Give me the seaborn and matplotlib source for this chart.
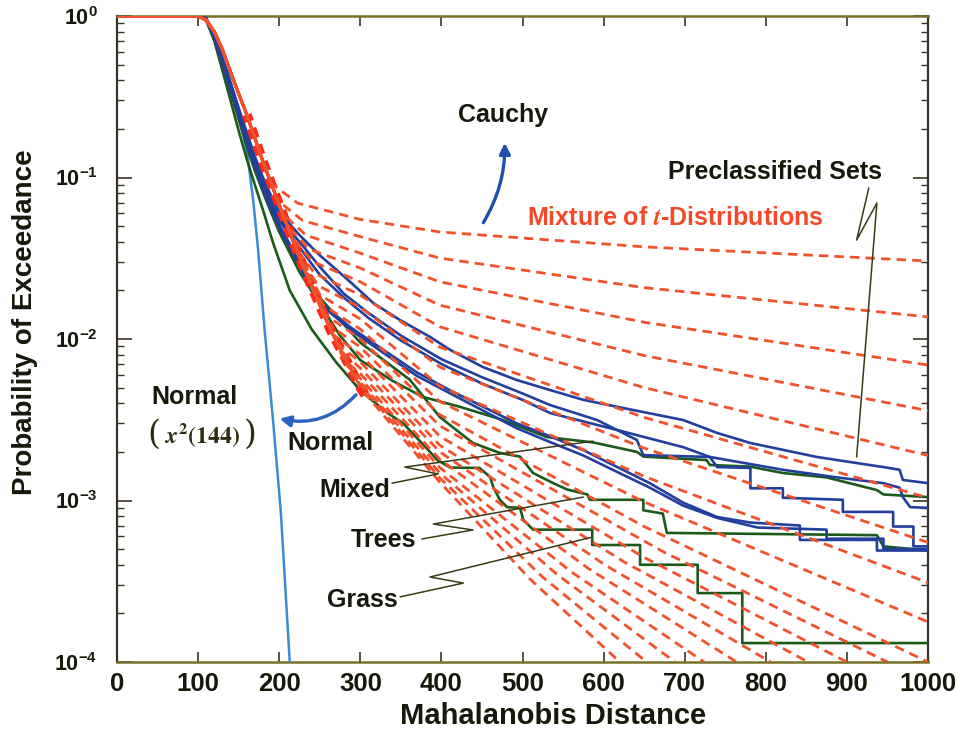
import numpy as np
import matplotlib
matplotlib.use("Agg")
import matplotlib.pyplot as plt
import seaborn as sns
from matplotlib.patches import FancyArrowPatch
from matplotlib.ticker import LogLocator, NullFormatter

# ---------------------------------------------------------------- data
X_TICKS = [0, 100, 200, 300, 400, 500, 600, 700, 800, 900, 1000]
Y_DECADES = [1e-4, 1e-3, 1e-2, 1e-1, 1.0]
Y_TICK_LABELS = [r"$10^{-4}$", r"$10^{-3}$", r"$10^{-2}$", r"$10^{-1}$", r"$10^{0}$"]

# chi-square(144) exceedance (light blue)
CHI2_X = [0, 100, 110, 120, 130, 140, 150, 160, 168, 174, 182, 192, 202, 213]
CHI2_Y = [1, 1, 0.96, 0.76, 0.53, 0.36, 0.24, 0.148, 0.072, 0.0355, 0.0114, 0.0033, 0.00085, 0.0001]

# common head of the t-mixture curves
ENV_X = [0, 100, 110, 120, 130, 140, 150, 160, 170, 180, 190, 198, 204, 210, 215, 220,
         225, 230, 235, 240, 246, 252, 258, 264, 270, 277, 284, 292, 300, 310]
ENV_Y = [1, 1, 0.94, 0.80, 0.62, 0.45, 0.33, 0.245, 0.175, 0.125, 0.092, 0.072, 0.060,
         0.050, 0.043, 0.037, 0.032, 0.028, 0.0243, 0.021, 0.018, 0.0153, 0.0131, 0.0112,
         0.0098, 0.0084, 0.0072, 0.0060, 0.0050, 0.0042]

# individual t-mixture tails
RED_BRANCH_X = [190, 198, 204, 210, 215, 220, 225, 230, 235, 240, 246, 252, 258, 264, 270, 277, 284, 292, 292]
RED_KNEE_X = [223, 229, 233, 237, 241, 244, 248, 251, 255, 258, 262, 266, 271, 275, 279, 284, 289, 295, 296]
RED_KNEE_Y = [0.0693, 0.0541, 0.0439, 0.0360, 0.0302, 0.0254, 0.0214, 0.0186, 0.0161, 0.0140,
              0.0122, 0.0107, 0.0094, 0.0085, 0.0075, 0.0068, 0.0062, 0.0057, 0.0055]
RED_STATION_X = [300, 398]
RED_Y300 = [0.055, 0.043, 0.034, 0.0275, 0.0226, 0.0187, 0.0157, 0.0133, 0.0115, 0.0100,
            0.0089, 0.0080, 0.0072, 0.0066, 0.0061, 0.0057, 0.0054, 0.0052, 0.0050]
RED_Y398 = [0.046, 0.0317, 0.0226, 0.0162, 0.0119, 0.0089, 0.0067, 0.0051, 0.0041, 0.0034,
            0.0029, 0.0025, 0.0022, 0.0020, 0.0018, 0.0016, 0.00148, 0.00138, 0.0013]
RED_MID_X = [650, 650, 650, 650, 650, 650, 650, 650, 650, 650, 674, 649, 625, 602, 581, 561, 543, 525, 509]
RED_MID_Y = [0.0372, 0.0208, 0.0127, 0.0079, 0.0050, 0.00327, 0.00211, 0.00141, 0.00098, 0.00069,
             0.00048, 0.000447, 0.000417, 0.000398, 0.00038, 0.000359, 0.000347, 0.000335, 0.000327]
RED_END_X = [1000, 1000, 1000, 1000, 1000, 1000, 1000, 1000, 1000, 1000, 950, 900, 852, 806, 764, 724, 688, 653, 620]
RED_END_Y = [0.0304, 0.0137, 0.0069, 0.0036, 0.0019, 0.00104, 0.00055, 0.00031, 0.000177, 0.0001,
             0.0001, 0.0001, 0.0001, 0.0001, 0.0001, 0.0001, 0.0001, 0.0001, 0.0001]

# preclassified sets (dark blue)
BLUE_A_X = [0, 100, 110, 120, 130, 140, 150, 160, 170, 180, 190, 200, 225, 250, 270, 290, 316, 349,
            386, 411, 451, 493, 534, 575, 617, 698, 740, 781, 863, 945, 965, 969, 1000]
BLUE_A_Y = [1, 1, 0.97, 0.78, 0.56, 0.39, 0.27, 0.19, 0.135, 0.1, 0.077, 0.061, 0.044, 0.033, 0.027,
            0.022, 0.0167, 0.0131, 0.0103, 0.00855, 0.00671, 0.00557, 0.00483, 0.0042, 0.0038,
            0.00315, 0.00262, 0.00227, 0.00186, 0.00161, 0.00155, 0.00134, 0.00128]
BLUE_B_X = [0, 100, 110, 120, 130, 140, 150, 160, 170, 180, 190, 200, 225, 250, 280, 310, 350, 400,
            450, 500, 534, 592, 641, 649, 731, 740, 781, 781, 821, 821, 895, 895, 957, 957, 982, 982, 1000]
BLUE_B_Y = [1, 1, 0.96, 0.76, 0.54, 0.375, 0.26, 0.18, 0.128, 0.095, 0.072, 0.056, 0.040, 0.028,
            0.019, 0.0145, 0.0105, 0.0075, 0.0058, 0.0046, 0.0039, 0.00315, 0.00237, 0.00191,
            0.00186, 0.00161, 0.00159, 0.00119, 0.00119, 0.00104, 0.00101, 0.00085, 0.00085,
            0.00069, 0.00069, 0.00052, 0.00052]
BLUE_C_X = [0, 100, 110, 120, 130, 140, 150, 160, 170, 180, 190, 200, 225, 250, 280, 310, 350, 400,
            450, 500, 534, 617, 698, 731, 821, 883, 945, 965, 969, 978, 1000]
BLUE_C_Y = [1, 1, 0.955, 0.75, 0.53, 0.365, 0.25, 0.175, 0.124, 0.091, 0.069, 0.054, 0.037, 0.025,
            0.018, 0.0135, 0.0098, 0.0070, 0.0053, 0.0042, 0.00348, 0.00273, 0.00214, 0.00186,
            0.00155, 0.00140, 0.00128, 0.00120, 0.00105, 0.00091, 0.00090]
BLUE_D_X = [0, 100, 110, 120, 130, 140, 150, 160, 170, 180, 190, 200, 225, 247, 287, 328, 370, 411,
            493, 534, 575, 617, 657, 698, 740, 781, 842, 842, 937, 937, 1000]
BLUE_D_Y = [1, 1, 0.95, 0.74, 0.52, 0.36, 0.245, 0.17, 0.12, 0.088, 0.066, 0.051, 0.030, 0.0174,
            0.0119, 0.0086, 0.0062, 0.0048, 0.0030, 0.0025, 0.00205, 0.00161, 0.00128, 0.00097,
            0.00079, 0.00073, 0.00070, 0.00057, 0.00057, 0.00049, 0.00049]
BLUE_E_X = [0, 100, 110, 120, 130, 140, 150, 160, 170, 180, 190, 200, 225, 250, 290, 330, 370, 411,
            493, 534, 575, 617, 657, 698, 740, 790, 875, 875, 945, 945, 1000]
BLUE_E_Y = [1, 1, 0.95, 0.73, 0.51, 0.35, 0.24, 0.166, 0.117, 0.085, 0.064, 0.049, 0.028, 0.0165,
            0.0112, 0.0081, 0.0059, 0.0046, 0.0028, 0.0023, 0.0019, 0.00150, 0.00120, 0.00093,
            0.00078, 0.00068, 0.00066, 0.00058, 0.00058, 0.00050, 0.00050]

# scene classes (green)
GRASS_X = [0, 100, 110, 120, 130, 140, 150, 160, 170, 180, 192, 213, 240, 270, 300, 333, 353, 382,
           395, 411, 447, 460, 464, 472, 481, 497, 501, 513, 586, 586, 645, 645, 716, 716, 771, 771, 1000]
GRASS_Y = [1, 1, 0.94, 0.70, 0.46, 0.30, 0.195, 0.13, 0.09, 0.063, 0.040, 0.020, 0.0115, 0.0072,
           0.0048, 0.0035, 0.0030, 0.0021, 0.00178, 0.00160, 0.00159, 0.00140, 0.00121, 0.00101,
           0.00091, 0.00090, 0.00076, 0.00066, 0.00066, 0.00053, 0.00053, 0.00040, 0.00040,
           0.000267, 0.000267, 0.000131, 0.000131]
MIXED_X = [0, 100, 110, 120, 130, 140, 150, 160, 170, 185, 200, 225, 250, 275, 300, 340, 377, 423,
           476, 530, 587, 641, 649, 727, 731, 781, 821, 875, 937, 945, 1000]
MIXED_Y = [1, 1, 0.95, 0.73, 0.50, 0.34, 0.23, 0.155, 0.11, 0.07, 0.046, 0.026, 0.0165, 0.0105,
           0.0074, 0.0055, 0.00438, 0.0038, 0.00315, 0.00247, 0.00229, 0.0020, 0.00187, 0.00178,
           0.00166, 0.00162, 0.00148, 0.00139, 0.00116, 0.00109, 0.00105]
TREES_X = [0, 100, 110, 120, 130, 140, 150, 160, 170, 185, 200, 225, 250, 300, 361, 398, 423, 439,
           472, 497, 513, 538, 555, 580, 583, 649, 649, 673, 678, 937, 945, 1000]
TREES_Y = [1, 1, 0.95, 0.74, 0.51, 0.35, 0.24, 0.16, 0.115, 0.073, 0.049, 0.028, 0.018, 0.0095,
           0.0056, 0.00329, 0.00262, 0.00227, 0.00197, 0.00187, 0.00148, 0.00128, 0.00117, 0.00109,
           0.00101, 0.00101, 0.00087, 0.00083, 0.00063, 0.00061, 0.00052, 0.00049]

# ---------------------------------------------------------------- style
sns.set_theme(style="ticks")
plt.rcParams["font.family"] = ["Liberation Sans", "DejaVu Sans"]
plt.rcParams["font.weight"] = "bold"
plt.rcParams["mathtext.fontset"] = "custom"
plt.rcParams["mathtext.rm"] = "Liberation Sans:bold"
plt.rcParams["mathtext.bf"] = "Liberation Sans:bold"
plt.rcParams["mathtext.it"] = "Liberation Sans:bold:italic"

RED = "#f2512b"
HEAVY_RED = "#fc2a16"
BLUE = "#233f9e"
LIGHT_BLUE = "#3a8ad6"
GREEN = "#1c5a1b"
INK = "#18170c"
LEADER = "#3b3a16"
ARROW_BLUE = "#2a62c2"

fig = plt.figure(figsize=(9.71, 7.36), dpi=100)
fig.patch.set_facecolor("white")
ax = fig.add_axes([117 / 971, 1 - 662 / 736, (928 - 117) / 971, (662 - 16) / 736])
ax.set_facecolor("white")
ax.set_yscale("log")


def curve(xs, ys, **kw):
    sns.lineplot(x=xs, y=ys, ax=ax, sort=False, estimator=None, legend=False, **kw)


# chi-square reference curve
curve(CHI2_X, CHI2_Y, color=LIGHT_BLUE, lw=1.8, zorder=3)

for xs, ys in [(GRASS_X, GRASS_Y), (MIXED_X, MIXED_Y), (TREES_X, TREES_Y)]:
    curve(xs, ys, color=GREEN, lw=1.9, zorder=3)

for xs, ys in [(BLUE_A_X, BLUE_A_Y), (BLUE_B_X, BLUE_B_Y), (BLUE_C_X, BLUE_C_Y),
               (BLUE_D_X, BLUE_D_Y), (BLUE_E_X, BLUE_E_Y)]:
    curve(xs, ys, color=BLUE, lw=1.9, zorder=3)

# overlapping heads of the t-mixture bundle
i0 = ENV_X.index(160)
curve(ENV_X[i0:], ENV_Y[i0:], color=HEAVY_RED, lw=7.0,
      linestyle=(0.3, (1.05, 0.75)), zorder=3.5)

# the family of t-mixture exceedance curves
for k in range(len(RED_END_Y)):
    b = ENV_X.index(RED_BRANCH_X[k])
    xs = ENV_X[:b + 1] + [RED_KNEE_X[k]] + RED_STATION_X + [RED_MID_X[k], RED_END_X[k]]
    ys = ENV_Y[:b + 1] + [RED_KNEE_Y[k], RED_Y300[k], RED_Y398[k], RED_MID_Y[k], RED_END_Y[k]]
    curve(xs, ys, color=RED, lw=2.0, linestyle=(k * 1.3, (3.4, 2.2)), zorder=4)

# ---------------------------------------------------------------- axes
ax.set_xlim(0, 1000)
ax.set_ylim(1e-4, 1)
ax.set_xticks(X_TICKS)
ax.set_xticklabels([str(v) for v in X_TICKS])
ax.set_yticks(Y_DECADES)
ax.set_yticklabels(Y_TICK_LABELS)
ax.yaxis.set_minor_locator(LogLocator(base=10, subs=np.arange(2, 10)))
ax.yaxis.set_minor_formatter(NullFormatter())
ax.xaxis.set_minor_locator(plt.NullLocator())

ax.tick_params(axis="both", which="both", direction="in", top=True, right=True,
               colors="#3a3424", labelcolor=INK)
ax.tick_params(axis="x", which="major", length=7, width=1.2, labelsize=18.5, pad=7)
ax.tick_params(axis="y", which="major", length=11, width=1.2, labelsize=15.5, pad=14)
ax.tick_params(axis="y", which="minor", length=5, width=1.0)

for side in ["left", "right"]:
    ax.spines[side].set_color("#3a3226")
    ax.spines[side].set_linewidth(1.6)
for side in ["top", "bottom"]:
    ax.spines[side].set_color("#77702a")
    ax.spines[side].set_linewidth(1.8)

ax.set_xlabel("Mahalanobis Distance", fontsize=21, fontweight="bold", color=INK)
ax.xaxis.set_label_coords(0.538, -0.062)
ax.set_ylabel("Probability of Exceedance", fontsize=20, fontweight="bold", color=INK)
ax.yaxis.set_label_coords(-0.098, 0.526)

# ---------------------------------------------------------------- labels
TXT = dict(fontsize=18, fontweight="bold", color=INK, ha="center", va="center", zorder=6)
ax.text(476, 0.244, "Cauchy", **TXT)
ax.text(811, 0.108, "Preclassified Sets", **TXT)
ax.text(688, 0.0561, r"Mixture of $\mathit{t}$-Distributions", math_fontfamily="stix",
        **{**TXT, "color": "#f4482a"})
ax.text(96, 0.00437, "Normal", **TXT)
SERIF = {**TXT, "fontweight": "normal", "color": "#2e2c10"}
ax.text(105, 0.00255, r"$\mathit{x}^{2}\mathit{(144)}$", math_fontfamily="stix",
        **{**SERIF, "fontsize": 17})
ax.text(46, 0.00255, "(", family="DejaVu Serif", **{**SERIF, "fontsize": 24})
ax.text(164, 0.00255, ")", family="DejaVu Serif", **{**SERIF, "fontsize": 24})
ax.text(263, 0.00227, "Normal", **TXT)
ax.text(293, 0.00116, "Mixed", **TXT)
ax.text(328, 0.000569, "Trees", **TXT)
ax.text(302, 0.000242, "Grass", **TXT)

# zig-zag leader lines
LEADERS = [
    ([339, 396, 355, 587], [0.00128, 0.00146, 0.00161, 0.00233]),
    ([376, 439, 390, 575], [0.000578, 0.000657, 0.000715, 0.00105]),
    ([349, 427, 386, 584], [0.000253, 0.000308, 0.000336, 0.00059]),
    ([927, 912, 937, 912], [0.0861, 0.0410, 0.0695, 0.00186]),
]
for lx, ly in LEADERS:
    ax.plot(lx, ly, color=LEADER, lw=1.1, zorder=5)

# curved arrows
ax.add_patch(FancyArrowPatch((297, 0.00465), (197, 0.00324), connectionstyle="arc3,rad=-0.3",
                             arrowstyle="-|>", mutation_scale=16, lw=2.4, color=ARROW_BLUE,
                             zorder=6))
ax.add_patch(FancyArrowPatch((450, 0.0508), (478, 0.1707), connectionstyle="arc3,rad=0.15",
                             arrowstyle="-|>", mutation_scale=16, lw=2.4, color="#1f4fae",
                             zorder=6))

fig.savefig("out.png", dpi=100, facecolor="white")
